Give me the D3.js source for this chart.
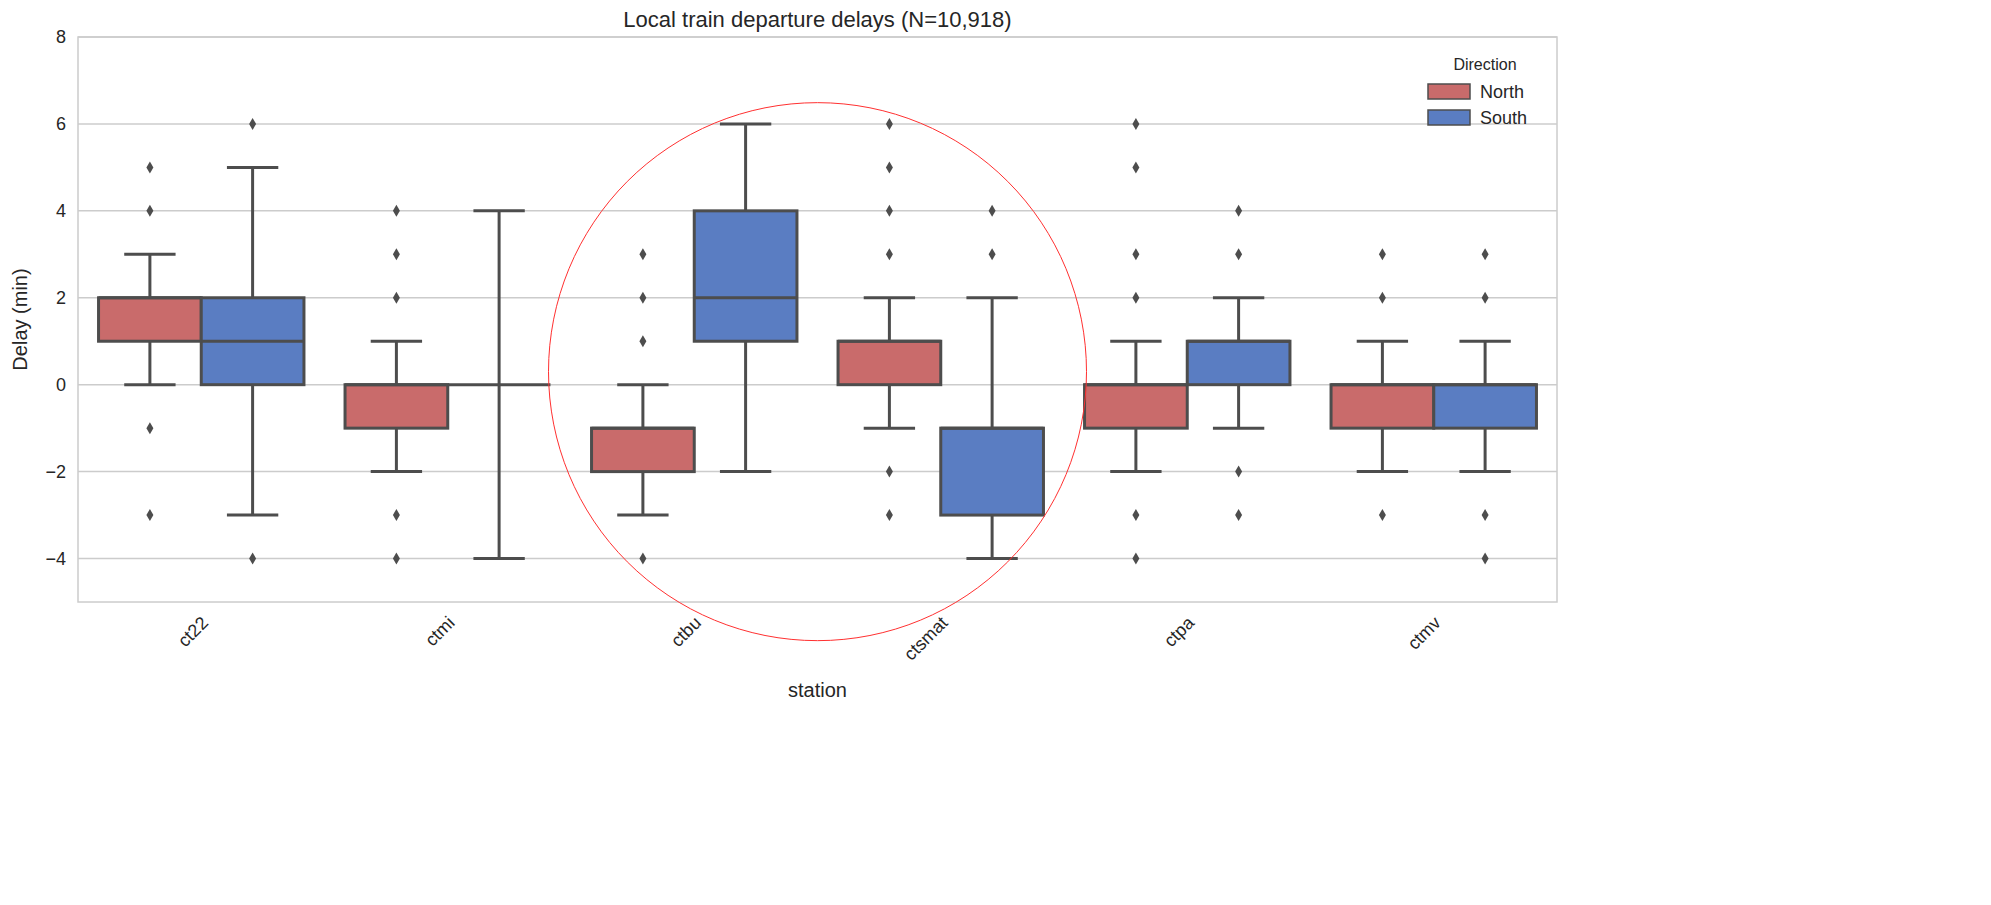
<!DOCTYPE html><html><head><meta charset="utf-8"><script src="https://cdn.jsdelivr.net/npm/d3@7"></script>
<style>body{margin:0;background:#fff}text{font-family:"Liberation Sans",Arial,sans-serif}</style></head><body><svg id="c" width="1991" height="905"></svg>
<script>
const stations=["ct22","ctmi","ctbu","ctsmat","ctpa","ctmv"];
const directions=["North","South"];
const colors=["#c96b6b","#5a7dc2"];
// [whiskerLow, q1, median, q3, whiskerHigh]
const northStats=[[0,1,2,2,3],[-2,-1,0,0,1],[-3,-2,-1,-1,0],[-1,0,1,1,2],[-2,-1,0,0,1],[-2,-1,0,0,1]];
const southStats=[[-3,0,1,2,5],[-4,0,0,0,4],[-2,1,2,4,6],[-4,-3,-1,-1,2],[-1,0,1,1,2],[-2,-1,0,0,1]];
const northOut=[[5,4,-1,-3],[4,3,2,-3,-4],[3,2,1,-4],[6,5,4,3,-2,-3],[6,5,3,2,-3,-4],[3,2,-3]];
const southOut=[[6,-4],[],[],[4,3],[4,3,-2,-3],[3,2,-3,-4]];
const yTicks=[-4,-2,0,2,4,6,8];
const svg=d3.select("#c");
const L=78,R=1557,T=37,B=602;
const x=d3.scaleBand().domain(stations).range([L,R]);
const xi=d3.scaleBand().domain(directions).range([0,x.bandwidth()]).paddingOuter(0.2);
const y=d3.scaleLinear().domain([-5,8]).range([B,T]);
svg.append("g").selectAll("line").data(yTicks).join("line").attr("x1",L).attr("x2",R).attr("y1",d=>y(d)).attr("y2",d=>y(d)).attr("stroke","#cccccc").attr("stroke-width",1.5);
svg.append("rect").attr("x",L).attr("y",T).attr("width",R-L).attr("height",B-T).attr("fill","none").attr("stroke","#cccccc").attr("stroke-width",1.5);
svg.append("g").selectAll("text").data(yTicks).join("text").attr("x",L-12).attr("y",d=>y(d)+6).attr("text-anchor","end").attr("font-size",18).attr("fill","#262626").text(d=>d<0?"\u2212"+(-d):d);
const lc="#4d4d4d",lw=3;
const stats=[northStats,southStats],outs=[northOut,southOut];
directions.forEach((dir,di)=>{
 stations.forEach((s,si)=>{
  const [wl,q1,md,q3,wh]=stats[di][si];
  const x0=x(s)+xi(dir),w=xi.bandwidth(),cx=x0+w/2;
  const g=svg.append("g");
  g.append("line").attr("x1",cx).attr("x2",cx).attr("y1",y(wl)).attr("y2",y(q1)).attr("stroke",lc).attr("stroke-width",lw);
  g.append("line").attr("x1",cx).attr("x2",cx).attr("y1",y(q3)).attr("y2",y(wh)).attr("stroke",lc).attr("stroke-width",lw);
  [wl,wh].forEach(v=>g.append("line").attr("x1",cx-w/4).attr("x2",cx+w/4).attr("y1",y(v)).attr("y2",y(v)).attr("stroke",lc).attr("stroke-width",lw));
  g.append("rect").attr("x",x0).attr("y",y(q3)).attr("width",w).attr("height",Math.max(0,y(q1)-y(q3))).attr("fill",colors[di]).attr("stroke",lc).attr("stroke-width",lw);
  g.append("line").attr("x1",x0).attr("x2",x0+w).attr("y1",y(md)).attr("y2",y(md)).attr("stroke",lc).attr("stroke-width",lw);
  outs[di][si].forEach(v=>g.append("path").attr("d",`M${cx},${y(v)-6}L${cx+3.5},${y(v)}L${cx},${y(v)+6}L${cx-3.5},${y(v)}Z`).attr("fill",lc));
 });
});
stations.forEach(s=>{const cx=x(s)+x.bandwidth()/2;
 svg.append("text").attr("transform",`translate(${cx+8},${B+22}) rotate(-45)`).attr("text-anchor","end").attr("font-size",18).attr("fill","#262626").text(s);});
svg.append("text").attr("x",(L+R)/2).attr("y",27).attr("text-anchor","middle").attr("font-size",22).attr("fill","#262626").text("Local train departure delays (N=10,918)");
svg.append("text").attr("x",(L+R)/2).attr("y",697).attr("text-anchor","middle").attr("font-size",20).attr("fill","#262626").text("station");
svg.append("text").attr("transform",`translate(27,${(T+B)/2}) rotate(-90)`).attr("text-anchor","middle").attr("font-size",20).attr("fill","#262626").text("Delay (min)");
// annotation circle between ctbu and ctsmat
svg.append("circle").attr("cx",x("ctsmat")).attr("cy",y(0.3)).attr("r",269).attr("fill","none").attr("stroke","#ff3030").attr("stroke-width",1);
svg.append("text").attr("x",1485).attr("y",70).attr("text-anchor","middle").attr("font-size",16).attr("fill","#262626").text("Direction");
directions.forEach((d,i)=>{
 svg.append("rect").attr("x",1428).attr("y",84+i*26).attr("width",42).attr("height",15).attr("fill",colors[i]).attr("stroke",lc).attr("stroke-width",1.5);
 svg.append("text").attr("x",1480).attr("y",98+i*26).attr("font-size",18).attr("fill","#262626").text(d);
});
</script></body></html>
